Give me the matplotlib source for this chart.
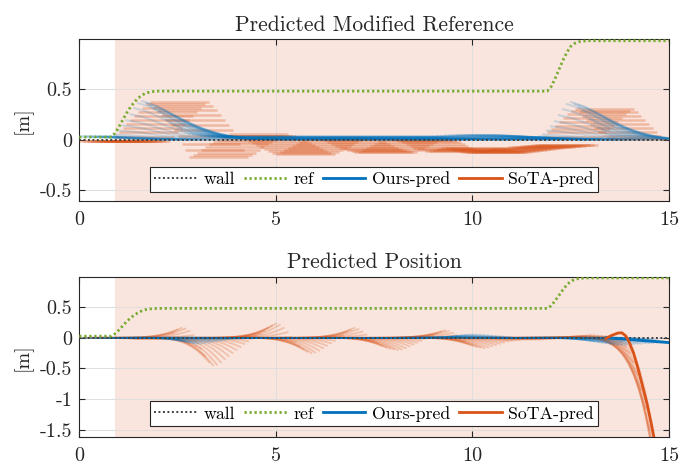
import numpy as np
import matplotlib.pyplot as plt
from matplotlib.lines import Line2D

plt.rcParams['font.family'] = 'cmr10'
plt.rcParams['axes.unicode_minus'] = False
plt.rcParams['mathtext.fontset'] = 'cm'

# ---------------- data ----------------
x_ticks = [0, 5, 10, 15]
top_yticks = [-0.5, 0, 0.5]
top_yticklabels = ['-0.5', '0', '0.5']
bot_yticks = [-1.5, -1, -0.5, 0, 0.5]
bot_yticklabels = ['-1.5', '-1', '-0.5', '0', '0.5']

shade_start = 0.91          # start of the shaded phase [s]
wall_level = 0.0

# reference trajectory
ref_t = [0, 0.8, 0.9, 1.0, 1.1, 1.2, 1.3, 1.4, 1.5, 1.6, 1.7, 1.8, 1.9, 2.0,
         11.9, 12.0, 12.1, 12.2, 12.3, 12.4, 12.5, 12.6, 12.7, 12.8, 12.9, 13.0, 15.0]
ref_v = [0.025, 0.025, 0.06, 0.12, 0.19, 0.26, 0.32, 0.37, 0.41, 0.44, 0.46, 0.47, 0.475, 0.478,
         0.478, 0.52, 0.60, 0.69, 0.78, 0.86, 0.92, 0.95, 0.965, 0.972, 0.975, 0.976, 0.976]

# prediction instants (every 0.1 s)
pred_t0 = np.round(np.arange(0, 13.55, 0.1), 2)

# SoTA: predicted modified reference is held constant over the horizon
sota_ref_horizon = 1.5
sota_ref_level = ([-0.01] * 9 +
                  [0.03, 0.07, 0.11, 0.15, 0.19, 0.23, 0.27, 0.31, 0.35, 0.37, 0.33] +
                  [0.29, 0.24, 0.19, 0.14, 0.09, 0.04, -0.04, -0.10, -0.17, -0.15] +
                  [-0.13, -0.10, -0.07, -0.04, -0.02, 0.00, 0.02, 0.04, 0.05, 0.04] +
                  [0.04, 0.03, 0.01, -0.01, -0.03, -0.05, -0.07, -0.09, -0.11, -0.13] +
                  [-0.14, -0.12, -0.10, -0.08, -0.06, -0.04, -0.02, 0.00, 0.01, 0.02] +
                  [0.02, 0.01, 0.00, -0.02, -0.04, -0.06, -0.08, -0.09, -0.10, -0.11] +
                  [-0.12, -0.12, -0.10, -0.08, -0.06, -0.04, -0.02, 0.00, 0.01, 0.01] +
                  [0.00, -0.01, -0.02, -0.04, -0.06, -0.08, -0.09, -0.10, -0.11, -0.11] +
                  [-0.10, -0.09, -0.08, -0.08, -0.09, -0.10, -0.11, -0.12, -0.12, -0.12] +
                  [-0.12, -0.11, -0.11, -0.10, -0.10, -0.09, -0.09, -0.08, -0.08, -0.07] +
                  [-0.07, -0.07, -0.06, -0.06, -0.06, -0.05, -0.05, -0.05, 0.03, 0.07] +
                  [0.10, 0.13, 0.17, 0.21, 0.25, 0.28, 0.30, 0.27, 0.23, 0.19] +
                  [0.15, 0.11, 0.07, 0.04, 0.02, 0.01])

# Ours: predicted modified reference starts at a value and decays to the wall
ours_ref_horizon = 2.4
ours_ref_start = ([0.03] * 9 +
                  [0.05, 0.09, 0.14, 0.19, 0.25, 0.31, 0.36, 0.38, 0.36, 0.33, 0.30] +
                  [0.27, 0.23, 0.20, 0.17, 0.14, 0.11, 0.09, 0.07, 0.06, 0.05] +
                  [0.04, 0.035] + [0.03] * 58 +
                  [0.03, 0.035, 0.035, 0.04, 0.04, 0.04, 0.045, 0.045, 0.045, 0.045] +
                  [0.045, 0.045, 0.045, 0.045, 0.045, 0.045, 0.04, 0.04, 0.035, 0.035] +
                  [0.03, 0.03, 0.025, 0.025, 0.02, 0.02, 0.02, 0.03, 0.05, 0.09] +
                  [0.13, 0.18, 0.24, 0.30, 0.35, 0.37, 0.35, 0.32, 0.28, 0.24] +
                  [0.20, 0.16, 0.12, 0.09, 0.06, 0.04])
ours_ref_shape_s = [0, 0.125, 0.25, 0.375, 0.5, 0.625, 0.75, 0.875, 1.0]
ours_ref_shape_v = [1.0, 0.9, 0.74, 0.55, 0.37, 0.22, 0.11, 0.04, 0.0]

# predicted positions: value reached at the end of the horizon
pos_horizon = 1.5
pos_shape_s = [0, 0.1, 0.2, 0.3, 0.4, 0.5, 0.6, 0.7, 0.8, 0.9, 1.0]
pos_shape_v = [0, 0.0, 0.01, 0.03, 0.07, 0.13, 0.22, 0.35, 0.52, 0.74, 1.0]
sota_pos_end = ([-0.02] * 9 +
                [0.08, 0.13, 0.16, 0.15, 0.11, 0.04, -0.06, -0.18, -0.30, -0.40, -0.45] +
                [-0.44, -0.40, -0.35, -0.30, -0.25, -0.20, -0.15, -0.10, -0.06, -0.02] +
                [0.02, 0.06, 0.11, 0.16, 0.20, 0.23, 0.21, 0.16, 0.09, 0.01] +
                [-0.07, -0.14, -0.19, -0.23, -0.25, -0.24, -0.21, -0.17, -0.13, -0.09] +
                [-0.05, -0.01, 0.04, 0.09, 0.13, 0.16, 0.14, 0.10, 0.05, 0.00] +
                [-0.05, -0.09, -0.13, -0.16, -0.18, -0.19, -0.20, -0.19, -0.17, -0.14] +
                [-0.11, -0.08, -0.05, -0.02, 0.01, 0.04, 0.07, 0.10, 0.12, 0.11] +
                [0.08, 0.04, -0.01, -0.06, -0.10, -0.13, -0.15, -0.16, -0.17, -0.16] +
                [-0.14, -0.12, -0.10, -0.08, -0.06, -0.05, -0.04, -0.04, -0.03, -0.03] +
                [-0.03, -0.03, -0.03, -0.03, -0.02, -0.02, -0.02, -0.01, -0.01, -0.01] +
                [0.00, 0.01, 0.02, 0.03, 0.03, 0.04, 0.04, 0.03, 0.03, 0.02] +
                [0.02, 0.00, -0.03, -0.08, -0.15, -0.25, -0.40, -0.60, -0.85, -1.15] +
                [-1.5, -1.9, -2.4, -2.9, -3.4, -4.0])
ours_pos_end = ([0.0] * 9 +
                [-0.01, -0.02, -0.04, -0.06, -0.08, -0.09, -0.10, -0.10, -0.09, -0.08, -0.07] +
                [-0.06, -0.05, -0.04, -0.03, -0.02, -0.02, -0.01, -0.01, 0.0, 0.0] +
                [0.0] * 50 +
                [0.01, 0.02, 0.03, 0.04, 0.05, 0.05, 0.05, 0.05, 0.04, 0.04] +
                [0.03, 0.03, 0.02, 0.02, 0.01, 0.01, 0.0, 0.0, 0.0, 0.0] +
                [0.0] * 10 +
                [0.0, -0.01, -0.02, -0.03, -0.04, -0.05, -0.06, -0.07, -0.08, -0.09] +
                [-0.10, -0.11, -0.12, -0.12, -0.12, -0.11, -0.11, -0.10, -0.10, -0.09] +
                [-0.09, -0.09, -0.08, -0.08, -0.08, -0.08])

# last (highlighted) predictions in the position plot
sota_last_t = [13.4, 13.55, 13.7, 13.8, 13.9, 14.0, 14.1, 14.2, 14.3, 14.44, 14.55, 14.7]
sota_last_v = [-0.01, 0.04, 0.075, 0.08, 0.03, -0.09, -0.25, -0.47, -0.72, -1.07, -1.4, -1.9]
ours_last_t = [13.4, 14.0, 14.5, 15.0]
ours_last_v = [0.0, -0.03, -0.055, -0.08]

# ---------------- style ----------------
c_blue = '#0072BD'
c_orange = '#D95319'
c_green = '#77AC30'
c_wall = '#404040'
c_shade = '#F9E5DD'
c_axes = '#262626'
wall_ls = (0, (1.0, 1.3))
ref_ls = (0, (0.8, 1.0))

fig = plt.figure(figsize=(6.8, 4.66), dpi=100)
ax1 = fig.add_axes([0.1166, 0.568, 0.8672, 0.3476])
ax2 = fig.add_axes([0.1166, 0.0616, 0.8672, 0.3446])

s_ref = np.array(ours_ref_shape_s)
v_ref = np.array(ours_ref_shape_v)
s_pos = np.array(pos_shape_s)
v_pos = np.array(pos_shape_v)

# top: predicted modified reference
for t0, lvl in zip(pred_t0, sota_ref_level):
    ax1.plot([t0, t0 + sota_ref_horizon], [lvl, lvl], color=c_orange,
             alpha=0.3, lw=1.8, solid_capstyle='butt', zorder=2)
for t0, v0 in zip(pred_t0, ours_ref_start):
    ax1.plot(t0 + ours_ref_horizon * s_ref, v0 * v_ref, color=c_blue,
             alpha=0.18, lw=1.5, zorder=3)

# bottom: predicted position
for t0, ve in zip(pred_t0, sota_pos_end):
    ax2.plot(t0 + pos_horizon * s_pos, ve * v_pos, color=c_orange,
             alpha=0.25, lw=1.3, zorder=2)
for t0, ve in zip(pred_t0, ours_pos_end):
    ax2.plot(t0 + pos_horizon * s_pos, ve * v_pos, color=c_blue,
             alpha=0.2, lw=1.3, zorder=3)
ax2.plot(ours_last_t, ours_last_v, color=c_blue, lw=2, zorder=6)
ax2.plot(sota_last_t, sota_last_v, color=c_orange, lw=2, zorder=7)

titles = ['Predicted Modified Reference', 'Predicted Position']
ylims = [(-0.61, 0.99), (-1.625, 0.995)]
yticks = [(top_yticks, top_yticklabels), (bot_yticks, bot_yticklabels)]
leg_y = [0.058, 0.07]

for ax, title, ylim, (yt, ytl), ly in zip([ax1, ax2], titles, ylims, yticks, leg_y):
    ax.axvspan(shade_start, 15, color=c_shade, lw=0, zorder=0.1)
    ax.axhline(wall_level, color=c_wall, lw=1.4, ls=wall_ls, zorder=4)
    ax.plot(ref_t, ref_v, color=c_green, lw=2, ls=ref_ls, zorder=5)
    ax.set_xlim(0, 15)
    ax.set_ylim(*ylim)
    ax.set_xticks(x_ticks)
    ax.set_xticklabels([str(x) for x in x_ticks])
    ax.set_yticks(yt)
    ax.set_yticklabels(ytl)
    ax.grid(True, color='#dedede', lw=0.7)
    ax.set_axisbelow(True)
    ax.tick_params(direction='in', top=True, right=True, length=4, width=0.8,
                   colors=c_axes, labelsize=14.5)
    ax.tick_params(axis='x', pad=7)
    ax.tick_params(axis='y', pad=5)
    for sp in ax.spines.values():
        sp.set_color(c_axes)
        sp.set_linewidth(0.8)
    ax.set_title(title, fontsize=15.5, color=c_axes, pad=6)
    ax.set_ylabel('[m]', fontsize=14.5, color=c_axes)
    ax.yaxis.set_label_coords(-0.079, 0.5)

    handles = [Line2D([], [], color=c_wall, lw=1.4, ls=wall_ls),
               Line2D([], [], color=c_green, lw=2, ls=ref_ls),
               Line2D([], [], color=c_blue, lw=2),
               Line2D([], [], color=c_orange, lw=2)]
    leg = ax.legend(handles, ['wall', 'ref', 'Ours-pred', 'SoTA-pred'],
                    loc='lower center', bbox_to_anchor=(0.5, ly), ncol=4,
                    fontsize=12.8, frameon=True, fancybox=False, framealpha=1,
                    edgecolor=c_axes, handlelength=2.4, handletextpad=0.37,
                    columnspacing=0.5, borderpad=0.25, borderaxespad=0)
    leg.get_frame().set_linewidth(0.8)
    leg.set_zorder(10)

fig.savefig('out.png', dpi=100)
